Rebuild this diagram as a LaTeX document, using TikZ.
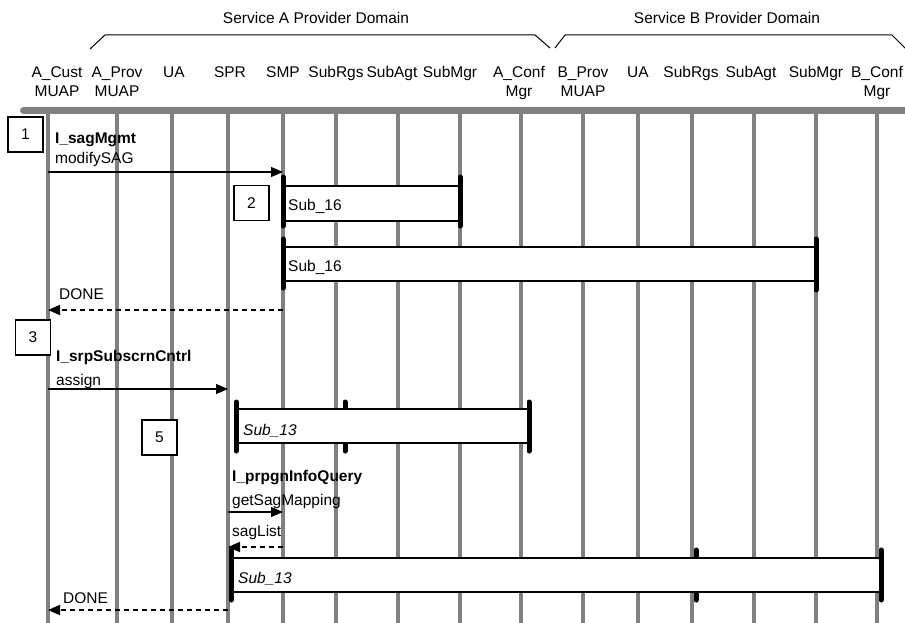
\documentclass[tikz,border=0pt]{standalone}
\usepackage{fontspec}
\setmainfont{Liberation Sans}
\usetikzlibrary{arrows.meta}
\definecolor{lifegray}{RGB}{128,128,128}
\newcommand{\txt}{\fontsize{15.5}{19}\selectfont}

\begin{document}
\begin{tikzpicture}[x=1pt,y=-1pt,font=\txt,
  lifeline/.style={draw=lifegray,line width=4.5pt},
  actbar/.style={line width=5pt,line cap=round},
  subbox/.style={draw,fill=white,line width=1.3pt},
  numbox/.style={draw,fill=white,line width=1.2pt,minimum size=35pt,inner sep=0pt},
  msg/.style={line width=1.2pt,-{Triangle[length=12pt,width=10pt]}},
  reply/.style={line width=1.6pt,dash pattern=on 5pt off 4pt,-{Triangle[length=12pt,width=10pt]}},
  lbl/.style={anchor=base west,inner sep=0pt},
  hdr/.style={anchor=base,inner sep=0pt}]
\useasboundingbox (0,0) rectangle (905,623);
% domains
\node[hdr] (domA) at (316,24) {Service A Provider Domain};
\node[hdr] (domB) at (727,24) {Service B Provider Domain};
\draw[line width=1pt] (90,49) -- (105,35) -- (535,35) -- (550,48);
\draw[line width=1pt] (555,48) -- (565,35) -- (892,35) -- (907,50);
% lifelines with their names (lifeline x / label x / name / two lines)
\foreach \xx/\cx/\nm/\la/\lb in {48/57/acust/A\_Cust/MUAP, 117/117/aprov/A\_Prov/MUAP,
  172/174/aua/UA/{}, 228/230/aspr/SPR/{}, 283/283/asmp/SMP/{}, 336/336/asubrgs/SubRgs/{},
  398/392/asubagt/SubAgt/{}, 460/450/asubmgr/SubMgr/{}, 521/519/aconf/A\_Conf/Mgr,
  583/583/bprov/B\_Prov/MUAP, 638/638/bua/UA/{}, 692/691/bsubrgs/SubRgs/{},
  754/751/bsubagt/SubAgt/{}, 816/816/bsubmgr/SubMgr/{}, 877/877/bconf/B\_Conf/Mgr}
{
  \coordinate (\nm) at (\xx,110);
  \draw[lifeline] (\nm) -- ++(0,513);
  \node[hdr] (\nm-name) at (\cx,78) {\la};
  \node[hdr] (\nm-sub) at (\cx,97) {\lb};
}
\draw[lifeline,line width=7pt,line cap=round] (23.5,110.5) -- (910,110.5);

% step 1: modifySAG
\node[numbox] (box1) at (25.5,134.5) {1};
\node[lbl,font=\txt\bfseries] (op1) at (55,143) {I\_sagMgmt};
\node[lbl] (msg1) at (55,164) {modifySAG};
\draw[msg] (acust |- 0,172) -- (asmp |- 0,172);
% step 2: Sub_16 twice
\draw[subbox] (283,186) rectangle (460,221);
\draw[actbar] (283,177) -- (283,226);
\draw[actbar] (460,177) -- (460,226);
\node[lbl] (sub16a) at (288,210) {Sub\_16};
\node[numbox] (box2) at (251.5,203) {2};
\draw[subbox] (283,247) rectangle (816,281);
\draw[actbar] (283,239) -- (283,288);
\draw[actbar] (816,239) -- (816,290);
\node[lbl] (sub16b) at (288,271) {Sub\_16};
\node[lbl] (done1) at (59,299) {DONE};
\draw[reply] (asmp |- 0,310) -- (acust |- 0,310);

% step 3: assign
\node[numbox] (box3) at (33,337.5) {3};
\node[lbl,font=\txt\bfseries] (op3) at (56,361) {I\_srpSubscrnCntrl};
\node[lbl] (msg3) at (56,385) {assign};
\draw[msg] (acust |- 0,389) -- (aspr |- 0,389);
% Sub_13 (first), middle bar under the box
\draw[actbar] (345,402) -- (345,451);
\draw[subbox] (236,409) rectangle (529,443);
\draw[actbar] (236,402) -- (236,451);
\draw[actbar] (529,402) -- (529,451);
\node[lbl,font=\txt\itshape] (sub13a) at (243,435) {Sub\_13};
\node[numbox] (box5) at (159.5,437.5) {5};
% propagation query
\node[lbl,font=\txt\bfseries] (op5) at (232,481) {I\_prpgnInfoQuery};
\node[lbl] (msg5) at (232,505) {getSagMapping};
\draw[msg] (aspr |- 0,512) -- (asmp |- 0,512);
\node[lbl] (ret5) at (232,536) {sagList};
\draw[reply] (asmp |- 0,547) -- (aspr |- 0,547);
% Sub_13 (second)
\draw[actbar] (696,550) -- (696,600);
\draw[subbox] (231,558) rectangle (881,592);
\draw[actbar] (231,550) -- (231,600);
\draw[actbar] (881,550) -- (881,600);
\node[lbl,font=\txt\itshape] (sub13b) at (238,583) {Sub\_13};
\node[lbl] (done2) at (63,603) {DONE};
\draw[reply] (aspr |- 0,610) -- (acust |- 0,610);
\end{tikzpicture}
\end{document}
